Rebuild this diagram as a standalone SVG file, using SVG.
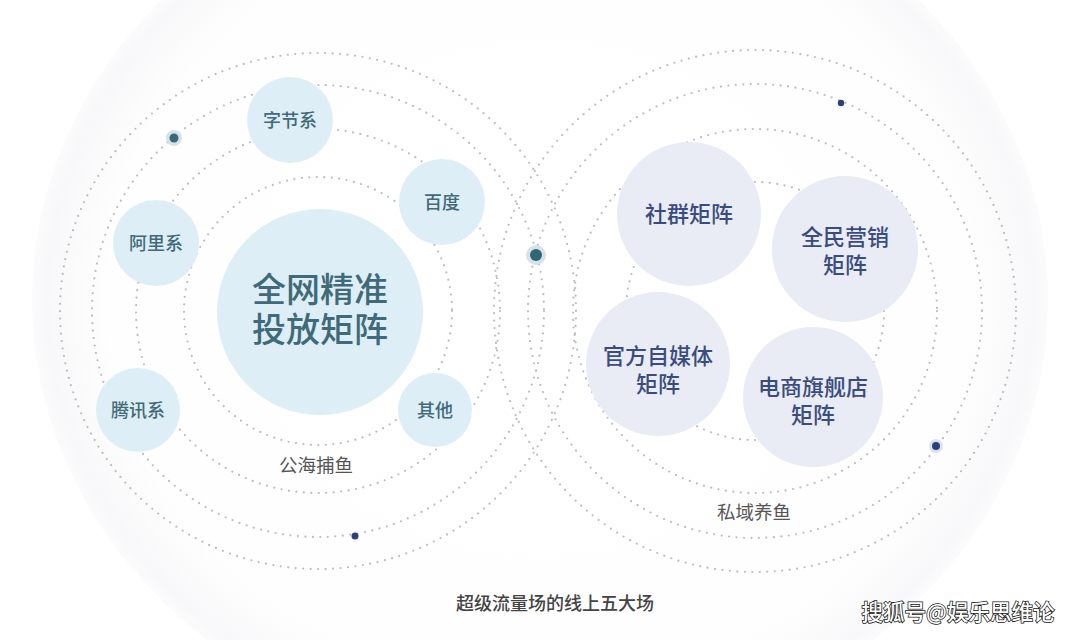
<svg xmlns="http://www.w3.org/2000/svg" width="1080" height="640" viewBox="0 0 1080 640">
<defs>
<radialGradient id="bg" cx="0.5" cy="0.5" r="0.5">
<stop offset="0" stop-color="#ffffff"/>
<stop offset="0.85" stop-color="#fefefe"/>
<stop offset="0.97" stop-color="#f8f8fa"/>
<stop offset="1" stop-color="#fbfbfc"/>
</radialGradient>
<style>
.ring{fill:none;stroke:#b9bcc2;stroke-width:2.2;stroke-linecap:round;stroke-dasharray:0 7.5}
.lb{fill:#deeef6}
.rb{fill:#e9ecf5}
.lt{font-family:"Noto Sans CJK SC","Noto Sans",sans-serif;fill:#3f6a79;text-anchor:middle;font-weight:500}
.rt{font-family:"Noto Sans CJK SC","Noto Sans",sans-serif;fill:#3a4c7d;text-anchor:middle;font-weight:500;font-size:22px}
.cap{font-family:"Noto Sans CJK SC","Noto Sans",sans-serif;fill:#555;text-anchor:middle;font-size:18.5px}
</style>
</defs>
<rect width="1080" height="640" fill="#ffffff"/>
<ellipse cx="540" cy="300" rx="508" ry="450" fill="url(#bg)"/>

<g id="connectors">
<circle class="ring" cx="318" cy="311" r="134"/>
<circle class="ring" cx="318" cy="311" r="182"/>
<circle class="ring" cx="318" cy="311" r="226"/>
<circle class="ring" cx="318" cy="311" r="258"/>
<circle class="ring" cx="755" cy="311" r="129"/>
<circle class="ring" cx="755" cy="311" r="182"/>
<circle class="ring" cx="755" cy="311" r="227"/>
<circle class="ring" cx="755" cy="311" r="261"/>
</g>

<g id="dots">
<circle cx="174" cy="138" r="8" fill="#d6e1e8"/>
<circle cx="174" cy="138" r="4.5" fill="#3a6a78"/>
<circle cx="536" cy="255" r="10" fill="#d6e1e8"/>
<circle cx="536" cy="255" r="6" fill="#2f6774"/>
<circle cx="355" cy="536" r="3.5" fill="#2c3f7a"/>
<circle cx="841" cy="103" r="3.2" fill="#2c3f7a"/>
<circle cx="936" cy="446" r="7" fill="#dde1ea"/>
<circle cx="936" cy="446" r="4" fill="#2c3f7a"/>
</g>

<g id="node-central">
<circle class="lb" cx="320" cy="312" r="103"/>
<text class="lt" x="320" y="302" font-size="34">全网精准</text>
<text class="lt" x="320" y="342" font-size="34">投放矩阵</text>
</g>
<g id="node-zijie">
<circle class="lb" cx="290" cy="120" r="43"/>
<text class="lt" x="290" y="127" font-size="18">字节系</text>
</g>
<g id="node-baidu">
<circle class="lb" cx="442" cy="202" r="43"/>
<text class="lt" x="442" y="209" font-size="18">百度</text>
</g>
<g id="node-ali">
<circle class="lb" cx="156" cy="243" r="43"/>
<text class="lt" x="156" y="250" font-size="18">阿里系</text>
</g>
<g id="node-tencent">
<circle class="lb" cx="138" cy="410" r="42"/>
<text class="lt" x="138" y="417" font-size="18">腾讯系</text>
</g>
<g id="node-other">
<circle class="lb" cx="435" cy="410" r="37"/>
<text class="lt" x="435" y="417" font-size="18">其他</text>
</g>

<g id="node-shequn">
<circle class="rb" cx="689" cy="214" r="72"/>
<text class="rt" x="689" y="222">社群矩阵</text>
</g>
<g id="node-quanmin">
<circle class="rb" cx="845" cy="249" r="73"/>
<text class="rt" x="845" y="245">全民营销</text>
<text class="rt" x="845" y="273">矩阵</text>
</g>
<g id="node-guanfang">
<circle class="rb" cx="658" cy="364" r="72"/>
<text class="rt" x="658" y="364">官方自媒体</text>
<text class="rt" x="658" y="392">矩阵</text>
</g>
<g id="node-dianshang">
<circle class="rb" cx="813" cy="397" r="70"/>
<text class="rt" x="813" y="395">电商旗舰店</text>
<text class="rt" x="813" y="423">矩阵</text>
</g>

<g id="labels">
<text class="cap" x="316" y="472">公海捕鱼</text>
<text class="cap" x="754" y="519">私域养鱼</text>
<text x="555" y="610" font-family="'Noto Sans CJK SC','Noto Sans',sans-serif" font-size="18" font-weight="500" fill="#444" text-anchor="middle">超级流量场的线上五大场</text>
<text x="958" y="620" font-family="'Noto Sans CJK SC','Noto Sans',sans-serif" font-size="21.5" font-weight="500" fill="#ffffff" stroke="#111" stroke-width="1.5" paint-order="stroke" text-anchor="middle">搜狐号@娱乐思维论</text>
</g>
</svg>
